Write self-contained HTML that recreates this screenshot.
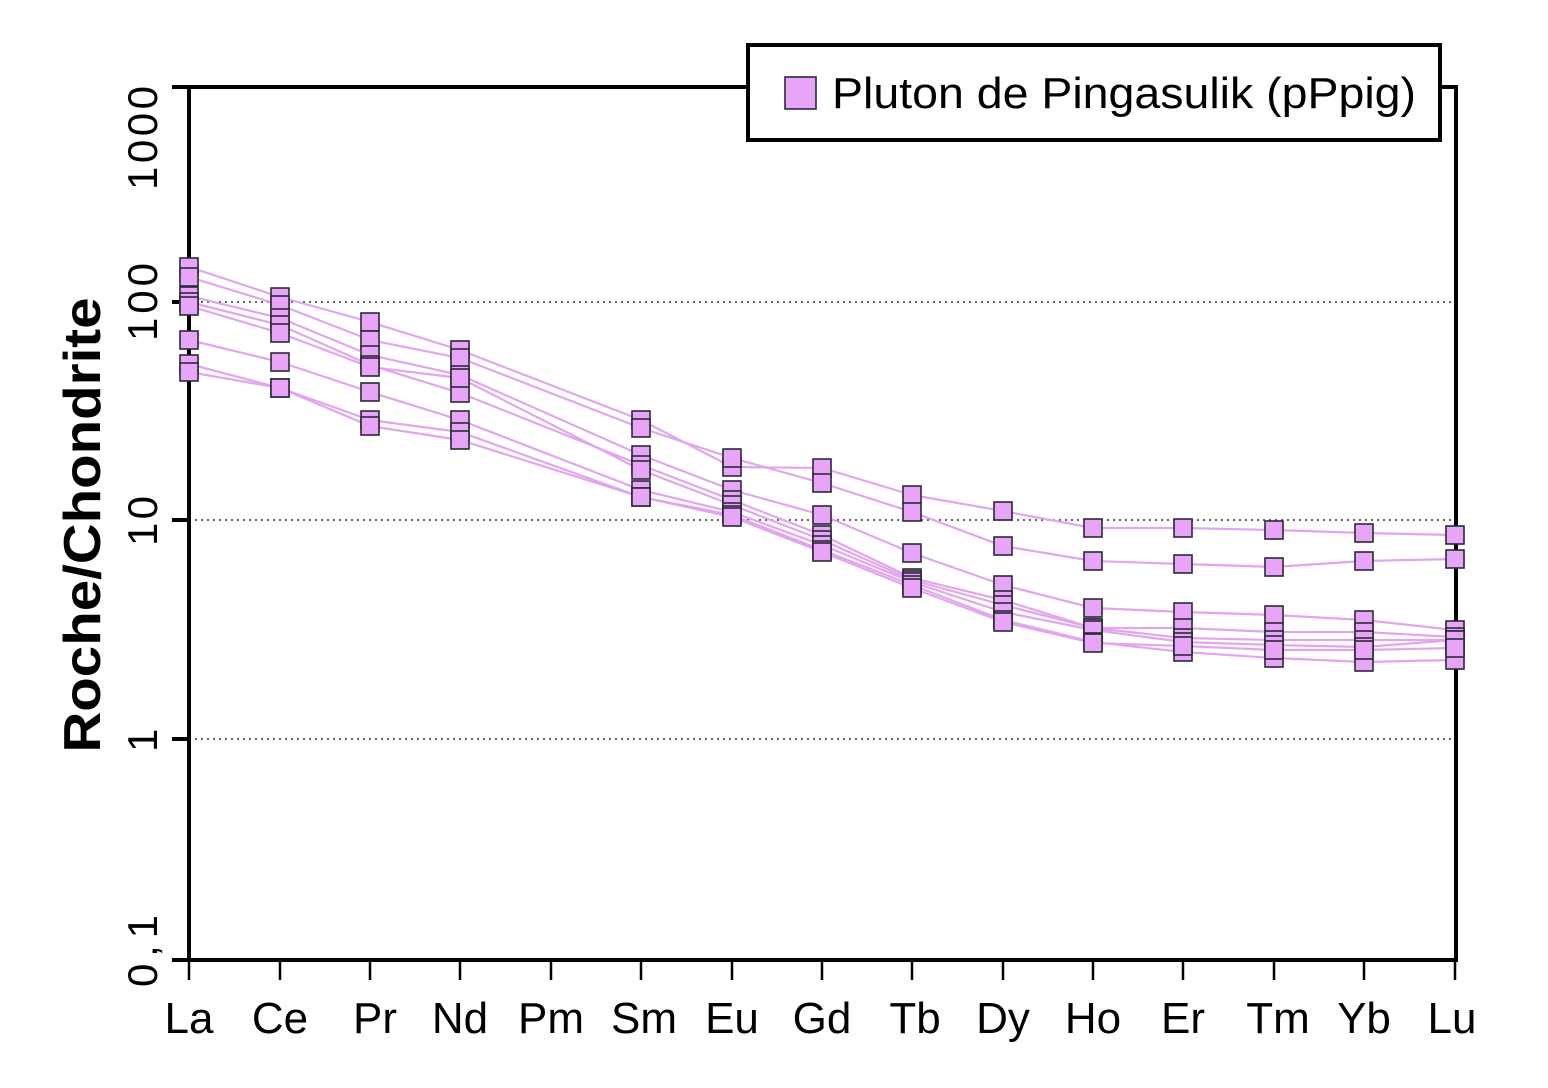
<!DOCTYPE html>
<html><head><meta charset="utf-8"><style>html,body{margin:0;padding:0;background:#fff}svg{display:block}</style></head>
<body>
<svg width="1548" height="1088" viewBox="0 0 1548 1088" xmlns="http://www.w3.org/2000/svg" xmlns:xlink="http://www.w3.org/1999/xlink" font-family="Liberation Sans, sans-serif">
<defs><rect id="s" x="-9" y="-9" width="18" height="18" fill="#e8a4f6" stroke="#2a2a3a" stroke-width="1.6"/></defs>
<rect width="1548" height="1088" fill="#fff"/>
<g stroke="#333" stroke-width="1.5" stroke-dasharray="2,4">
<line x1="189" y1="302" x2="1456" y2="302"/>
<line x1="189" y1="520" x2="1456" y2="520"/>
<line x1="189" y1="739" x2="1456" y2="739"/>
</g>
<g fill="none" stroke="#e2a6ee" stroke-width="2.2">
<polyline points="189,267 280,297 370,322 460,350 641,420 732,467 822,468 912,495 1003,511 1093,528 1183,528 1274,530 1364,533 1455,535"/>
<polyline points="189,277 280,305 370,340 460,358 641,428 732,458 822,483 912,512 1003,546 1093,561 1183,564 1274,567 1364,561 1455,559"/>
<polyline points="189,296 280,318 370,355 460,375 641,455 732,490 822,515 912,553 1003,585 1093,608 1183,612 1274,615 1364,620 1455,630"/>
<polyline points="189,302 280,325 370,365 460,393 641,465 732,500 822,535 912,578 1003,600 1093,628 1183,628 1274,632 1364,632 1455,637"/>
<polyline points="189,306 280,333 370,367 460,378 641,470 732,505 822,540 912,580 1003,605 1093,628 1183,638 1274,640 1364,640 1455,640"/>
<polyline points="189,340 280,362 370,392 460,420 641,490 732,512 822,545 912,582 1003,612 1093,630 1183,642 1274,645 1364,647 1455,640"/>
<polyline points="189,364 280,388 370,420 460,432 641,497 732,515 822,550 912,585 1003,620 1093,642 1183,652 1274,658 1364,662 1455,660"/>
<polyline points="189,372 280,388 370,426 460,440 641,497 732,517 822,552 912,588 1003,622 1093,643 1183,646 1274,650 1364,650 1455,648"/>
</g>
<g fill="none" stroke="#000" stroke-width="4">
<polyline points="189,87 189,960 1456,960 1456,87 189,87"/>
<line x1="172" y1="87" x2="189" y2="87"/>
<line x1="172" y1="302" x2="189" y2="302"/>
<line x1="172" y1="520" x2="189" y2="520"/>
<line x1="172" y1="739" x2="189" y2="739"/>
<line x1="172" y1="960" x2="189" y2="960"/>
</g>
<g stroke="#000" stroke-width="2.5">
<line x1="189" y1="960" x2="189" y2="980"/><line x1="280" y1="960" x2="280" y2="980"/><line x1="370" y1="960" x2="370" y2="980"/><line x1="460" y1="960" x2="460" y2="980"/><line x1="551" y1="960" x2="551" y2="980"/><line x1="641" y1="960" x2="641" y2="980"/><line x1="732" y1="960" x2="732" y2="980"/><line x1="822" y1="960" x2="822" y2="980"/><line x1="912" y1="960" x2="912" y2="980"/><line x1="1003" y1="960" x2="1003" y2="980"/><line x1="1093" y1="960" x2="1093" y2="980"/><line x1="1183" y1="960" x2="1183" y2="980"/><line x1="1274" y1="960" x2="1274" y2="980"/><line x1="1364" y1="960" x2="1364" y2="980"/><line x1="1455" y1="960" x2="1455" y2="980"/>
</g>
<g>
<use href="#s" xlink:href="#s" x="189" y="267"/><use href="#s" xlink:href="#s" x="280" y="297"/><use href="#s" xlink:href="#s" x="370" y="322"/><use href="#s" xlink:href="#s" x="460" y="350"/><use href="#s" xlink:href="#s" x="641" y="420"/><use href="#s" xlink:href="#s" x="732" y="467"/><use href="#s" xlink:href="#s" x="822" y="468"/><use href="#s" xlink:href="#s" x="912" y="495"/><use href="#s" xlink:href="#s" x="1003" y="511"/><use href="#s" xlink:href="#s" x="1093" y="528"/><use href="#s" xlink:href="#s" x="1183" y="528"/><use href="#s" xlink:href="#s" x="1274" y="530"/><use href="#s" xlink:href="#s" x="1364" y="533"/><use href="#s" xlink:href="#s" x="1455" y="535"/>
<use href="#s" xlink:href="#s" x="189" y="277"/><use href="#s" xlink:href="#s" x="280" y="305"/><use href="#s" xlink:href="#s" x="370" y="340"/><use href="#s" xlink:href="#s" x="460" y="358"/><use href="#s" xlink:href="#s" x="641" y="428"/><use href="#s" xlink:href="#s" x="732" y="458"/><use href="#s" xlink:href="#s" x="822" y="483"/><use href="#s" xlink:href="#s" x="912" y="512"/><use href="#s" xlink:href="#s" x="1003" y="546"/><use href="#s" xlink:href="#s" x="1093" y="561"/><use href="#s" xlink:href="#s" x="1183" y="564"/><use href="#s" xlink:href="#s" x="1274" y="567"/><use href="#s" xlink:href="#s" x="1364" y="561"/><use href="#s" xlink:href="#s" x="1455" y="559"/>
<use href="#s" xlink:href="#s" x="189" y="296"/><use href="#s" xlink:href="#s" x="280" y="318"/><use href="#s" xlink:href="#s" x="370" y="355"/><use href="#s" xlink:href="#s" x="460" y="375"/><use href="#s" xlink:href="#s" x="641" y="455"/><use href="#s" xlink:href="#s" x="732" y="490"/><use href="#s" xlink:href="#s" x="822" y="515"/><use href="#s" xlink:href="#s" x="912" y="553"/><use href="#s" xlink:href="#s" x="1003" y="585"/><use href="#s" xlink:href="#s" x="1093" y="608"/><use href="#s" xlink:href="#s" x="1183" y="612"/><use href="#s" xlink:href="#s" x="1274" y="615"/><use href="#s" xlink:href="#s" x="1364" y="620"/><use href="#s" xlink:href="#s" x="1455" y="630"/>
<use href="#s" xlink:href="#s" x="189" y="302"/><use href="#s" xlink:href="#s" x="280" y="325"/><use href="#s" xlink:href="#s" x="370" y="365"/><use href="#s" xlink:href="#s" x="460" y="393"/><use href="#s" xlink:href="#s" x="641" y="465"/><use href="#s" xlink:href="#s" x="732" y="500"/><use href="#s" xlink:href="#s" x="822" y="535"/><use href="#s" xlink:href="#s" x="912" y="578"/><use href="#s" xlink:href="#s" x="1003" y="600"/><use href="#s" xlink:href="#s" x="1093" y="628"/><use href="#s" xlink:href="#s" x="1183" y="628"/><use href="#s" xlink:href="#s" x="1274" y="632"/><use href="#s" xlink:href="#s" x="1364" y="632"/><use href="#s" xlink:href="#s" x="1455" y="637"/>
<use href="#s" xlink:href="#s" x="189" y="306"/><use href="#s" xlink:href="#s" x="280" y="333"/><use href="#s" xlink:href="#s" x="370" y="367"/><use href="#s" xlink:href="#s" x="460" y="378"/><use href="#s" xlink:href="#s" x="641" y="470"/><use href="#s" xlink:href="#s" x="732" y="505"/><use href="#s" xlink:href="#s" x="822" y="540"/><use href="#s" xlink:href="#s" x="912" y="580"/><use href="#s" xlink:href="#s" x="1003" y="605"/><use href="#s" xlink:href="#s" x="1093" y="628"/><use href="#s" xlink:href="#s" x="1183" y="638"/><use href="#s" xlink:href="#s" x="1274" y="640"/><use href="#s" xlink:href="#s" x="1364" y="640"/><use href="#s" xlink:href="#s" x="1455" y="640"/>
<use href="#s" xlink:href="#s" x="189" y="340"/><use href="#s" xlink:href="#s" x="280" y="362"/><use href="#s" xlink:href="#s" x="370" y="392"/><use href="#s" xlink:href="#s" x="460" y="420"/><use href="#s" xlink:href="#s" x="641" y="490"/><use href="#s" xlink:href="#s" x="732" y="512"/><use href="#s" xlink:href="#s" x="822" y="545"/><use href="#s" xlink:href="#s" x="912" y="582"/><use href="#s" xlink:href="#s" x="1003" y="612"/><use href="#s" xlink:href="#s" x="1093" y="630"/><use href="#s" xlink:href="#s" x="1183" y="642"/><use href="#s" xlink:href="#s" x="1274" y="645"/><use href="#s" xlink:href="#s" x="1364" y="647"/><use href="#s" xlink:href="#s" x="1455" y="640"/>
<use href="#s" xlink:href="#s" x="189" y="364"/><use href="#s" xlink:href="#s" x="280" y="388"/><use href="#s" xlink:href="#s" x="370" y="420"/><use href="#s" xlink:href="#s" x="460" y="432"/><use href="#s" xlink:href="#s" x="641" y="497"/><use href="#s" xlink:href="#s" x="732" y="515"/><use href="#s" xlink:href="#s" x="822" y="550"/><use href="#s" xlink:href="#s" x="912" y="585"/><use href="#s" xlink:href="#s" x="1003" y="620"/><use href="#s" xlink:href="#s" x="1093" y="642"/><use href="#s" xlink:href="#s" x="1183" y="652"/><use href="#s" xlink:href="#s" x="1274" y="658"/><use href="#s" xlink:href="#s" x="1364" y="662"/><use href="#s" xlink:href="#s" x="1455" y="660"/>
<use href="#s" xlink:href="#s" x="189" y="372"/><use href="#s" xlink:href="#s" x="280" y="388"/><use href="#s" xlink:href="#s" x="370" y="426"/><use href="#s" xlink:href="#s" x="460" y="440"/><use href="#s" xlink:href="#s" x="641" y="497"/><use href="#s" xlink:href="#s" x="732" y="517"/><use href="#s" xlink:href="#s" x="822" y="552"/><use href="#s" xlink:href="#s" x="912" y="588"/><use href="#s" xlink:href="#s" x="1003" y="622"/><use href="#s" xlink:href="#s" x="1093" y="643"/><use href="#s" xlink:href="#s" x="1183" y="646"/><use href="#s" xlink:href="#s" x="1274" y="650"/><use href="#s" xlink:href="#s" x="1364" y="650"/><use href="#s" xlink:href="#s" x="1455" y="648"/>
</g>
<g font-size="44" fill="#000" text-anchor="middle">
<text x="189" y="1033">La</text><text x="280" y="1033">Ce</text><text x="375" y="1033">Pr</text><text x="460" y="1033">Nd</text><text x="551" y="1033">Pm</text><text x="644" y="1033">Sm</text><text x="732" y="1033">Eu</text><text x="822" y="1033">Gd</text><text x="915" y="1033">Tb</text><text x="1003" y="1033">Dy</text><text x="1093" y="1033">Ho</text><text x="1183" y="1033">Er</text><text x="1278" y="1033">Tm</text><text x="1364" y="1033">Yb</text><text x="1452" y="1033">Lu</text>
</g>
<g font-size="42" fill="#000">
<text transform="translate(157,190) rotate(-90)" textLength="104">1000</text>
<text transform="translate(157,341) rotate(-90)" textLength="78">100</text>
<text transform="translate(157,546) rotate(-90)" textLength="50">10</text>
<text transform="translate(157,752) rotate(-90)">1</text>
<text transform="translate(157,987) rotate(-90)" textLength="72">0,1</text>
</g>
<text transform="translate(100,525) rotate(-90)" font-size="52" font-weight="bold" text-anchor="middle" textLength="455" lengthAdjust="spacingAndGlyphs">Roche/Chondrite</text>
<rect x="748" y="45" width="692" height="95" fill="#fff" stroke="#000" stroke-width="4"/>
<rect x="785" y="77" width="31" height="32" fill="#e8a4f6" stroke="#2a2a3a" stroke-width="1.6"/>
<text x="832" y="108" font-size="44" textLength="584" lengthAdjust="spacingAndGlyphs">Pluton de Pingasulik (pPpig)</text>
</svg>
</body></html>
